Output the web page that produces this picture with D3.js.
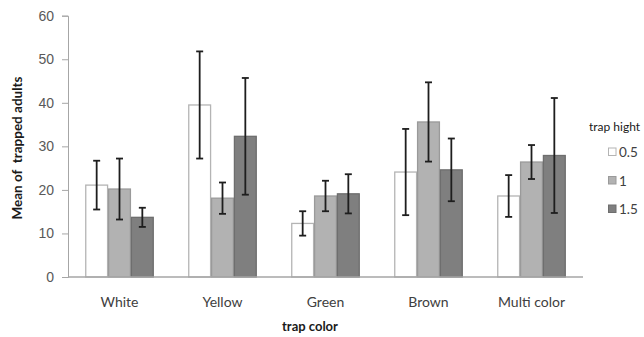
<!DOCTYPE html>
<html>
<head>
<meta charset="utf-8">
<script src="https://cdn.jsdelivr.net/npm/d3@7"></script>
<style>
  body { margin: 0; background: #fff; }
  svg { font-family: Lato, "Liberation Sans", sans-serif; }
</style>
</head>
<body>
<svg id="chart" width="644" height="337"></svg>
<script>
// trap color groups, trap height series
const categories = ['White', 'Yellow', 'Green', 'Brown', 'Multi color']
const heights = ['0.5', '1', '1.5']
const means = {
  '0.5': [21.1, 39.5, 12.3, 24.1, 18.6],
  '1':   [20.2, 18.1, 18.6, 35.6, 26.4],
  '1.5': [13.7, 32.3, 19.1, 24.6, 27.9]
}
const errors = {
  '0.5': [5.6, 12.3, 2.8, 9.9, 4.8],
  '1':   [7.0, 3.6, 3.5, 9.1, 3.9],
  '1.5': [2.2, 13.4, 4.5, 7.2, 13.2]
}
const yTicks = [0, 10, 20, 30, 40, 50, 60]

const fills = {'0.5': '#ffffff', '1': '#b2b2b2', '1.5': '#7f7f7f'}
const strokes = {'0.5': '#b4b4b4', '1': '#9a9a9a', '1.5': '#6e6e6e'}

const svg = d3.select('#chart')
const plot = {left: 68, right: 583, top: 15.7, bottom: 277}

const x0 = d3.scaleBand()
  .domain(categories)
  .range([plot.left, plot.right])
  .paddingInner(0.335)
  .paddingOuter(0.1675)
const x1 = d3.scaleBand()
  .domain(heights)
  .range([0, x0.bandwidth()])
const y = d3.scaleLinear().domain([0, 60]).range([plot.bottom, plot.top])

// y axis
const yAxis = svg.append('g')
  .attr('transform', `translate(${plot.left},0)`)
  .call(d3.axisLeft(y).tickValues(yTicks).tickSizeOuter(0).tickSize(6).tickPadding(8))
yAxis.select('.domain').attr('stroke', '#a6a6a6')
yAxis.selectAll('.tick line').attr('stroke', '#a6a6a6')
yAxis.selectAll('.tick text').attr('fill', '#595959').style('font-size', '14px')

// bars
const rows = []
heights.forEach(h => categories.forEach((c, i) => {
  rows.push({cat: c, h: h, mean: means[h][i], err: errors[h][i]})
}))

svg.append('g').selectAll('rect').data(rows).join('rect')
  .attr('x', d => x0(d.cat) + x1(d.h) + 0.5)
  .attr('y', d => y(d.mean))
  .attr('width', x1.bandwidth() - 1)
  .attr('height', d => y(0) - y(d.mean))
  .attr('fill', d => fills[d.h])
  .attr('stroke', d => strokes[d.h])
  .attr('stroke-width', 1.3)

// x axis line
svg.append('line')
  .attr('x1', plot.left).attr('x2', plot.right)
  .attr('y1', y(0)).attr('y2', y(0))
  .attr('stroke', '#a6a6a6').attr('stroke-width', 1.3)

// error bars
const eg = svg.append('g').attr('stroke', '#1e1e1e').attr('stroke-width', 1.8)
rows.forEach(d => {
  const cx = x0(d.cat) + x1(d.h) + x1.bandwidth() / 2
  const top = y(d.mean + d.err), bot = y(d.mean - d.err)
  eg.append('line').attr('x1', cx).attr('x2', cx).attr('y1', top).attr('y2', bot)
  eg.append('line').attr('x1', cx - 3.5).attr('x2', cx + 3.5).attr('y1', top).attr('y2', top)
  eg.append('line').attr('x1', cx - 3.5).attr('x2', cx + 3.5).attr('y1', bot).attr('y2', bot)
})

// category labels
svg.append('g').selectAll('text').data(categories).join('text')
  .attr('x', d => x0(d) + x0.bandwidth() / 2)
  .attr('y', 307)
  .attr('text-anchor', 'middle')
  .attr('fill', '#404040')
  .style('font-size', '14px')
  .text(d => d)

// axis titles
svg.append('text')
  .attr('x', 310).attr('y', 331)
  .attr('text-anchor', 'middle')
  .style('font-size', '13px').style('font-weight', 'bold')
  .attr('fill', '#1a1a1a')
  .text('trap color')

svg.append('text')
  .attr('transform', 'translate(22,148) rotate(-90)')
  .attr('text-anchor', 'middle')
  .style('font-size', '13.5px').style('font-weight', 'bold')
  .attr('fill', '#1a1a1a')
  .attr('xml:space', 'preserve')
  .text('Mean of  trapped adults')

// legend
const legend = svg.append('g')
legend.append('text')
  .attr('x', 589).attr('y', 131)
  .style('font-size', '12px')
  .attr('fill', '#1a1a1a')
  .text('trap hight')
const li = legend.selectAll('g.item').data(heights).join('g')
  .attr('class', 'item')
  .attr('transform', (d, i) => `translate(608,${152 + i * 28.5})`)
li.append('rect')
  .attr('x', 0.5).attr('y', -4)
  .attr('width', 7.5).attr('height', 7.5)
  .attr('fill', d => fills[d])
  .attr('stroke', d => strokes[d])
li.append('text')
  .attr('x', 11).attr('y', 5)
  .style('font-size', '13.5px')
  .attr('fill', '#404040')
  .text(d => d)
</script>
</body>
</html>
